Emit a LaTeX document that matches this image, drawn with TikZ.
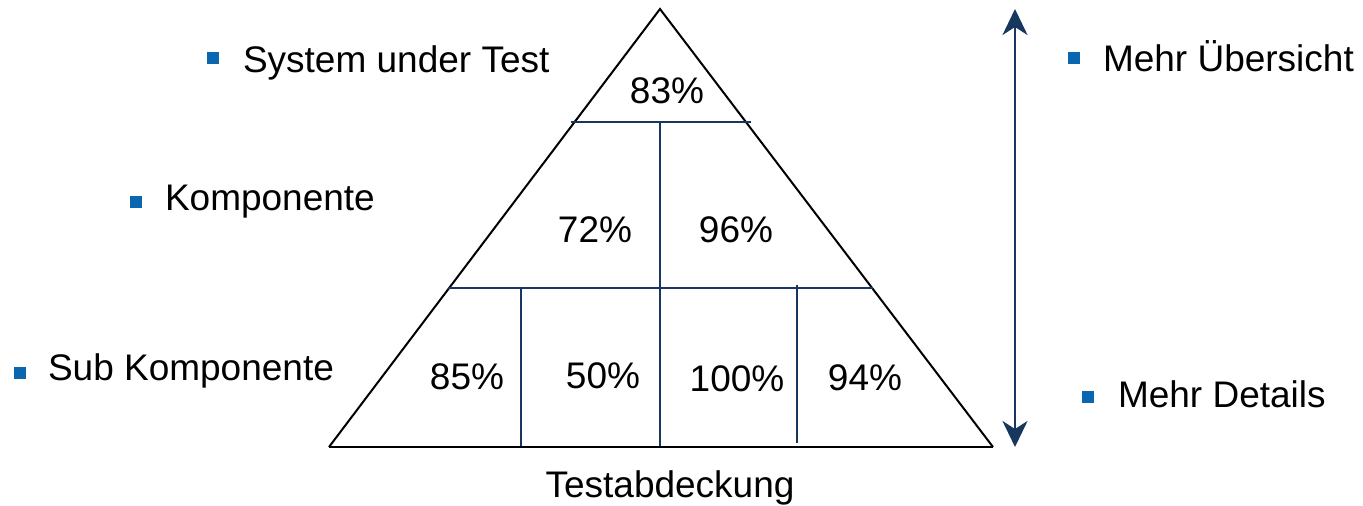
\documentclass[tikz,border=0pt]{standalone}
\usepackage{fontspec}
\setmainfont{Liberation Sans}
\usetikzlibrary{arrows.meta}
\definecolor{navy}{HTML}{17375E}
\definecolor{bulletblue}{HTML}{0A66AE}
\tikzset{
  txt/.style={font=\fontsize{37}{40}\selectfont, inner sep=0pt, outer sep=0pt},
  pct/.style={txt, anchor=base},
  lbl/.style={txt, anchor=base west},
  bul/.style={fill=bulletblue, draw=none, minimum size=12pt, inner sep=0pt, outer sep=0pt},
  edge/.style={draw=black, line width=2pt, line join=miter},
  divider/.style={draw=navy, line width=2pt},
  scale arrow/.style={draw=navy, line width=2.6pt,
    {Stealth[length=26pt, width=25pt, inset=8pt]}-{Stealth[length=26pt, width=25pt, inset=8pt]}}
}
\begin{document}
\begin{tikzpicture}[x=1pt, y=-1pt]
\useasboundingbox (0,0) rectangle (1363,506);

% pyramid outline
\coordinate (apex) at (660,9);
\coordinate (bl) at (329,447);
\coordinate (br) at (993,447);
\draw[edge] (bl) -- (apex) -- (br);
\draw[black, line width=2.6pt] (bl) -- (br);

% level dividers
\coordinate (h1l) at (571,122);
\coordinate (h1r) at (751,122);
\coordinate (h2l) at (448,288);
\coordinate (h2r) at (873,288);
\draw[divider] (h1l) -- (h1r);
\draw[divider] (h2l) -- (h2r);

% cell dividers
\coordinate (v1t) at (660,122);
\coordinate (v1b) at (660,446);
\coordinate (v2t) at (521,288);
\coordinate (v2b) at (521,446);
\coordinate (v3t) at (797,285);
\coordinate (v3b) at (797,443);
\draw[divider] (v1t) -- (v1b);
\draw[divider] (v2t) -- (v2b);
\draw[divider] (v3t) -- (v3b);

% coverage values
\node[pct] (p83)  at (667,103) {83\%};
\node[pct] (p72)  at (595,242) {72\%};
\node[pct] (p96)  at (736,242) {96\%};
\node[pct] (p85)  at (467,389) {85\%};
\node[pct] (p50)  at (603,388) {50\%};
\node[pct] (p100) at (737,391) {100\%};
\node[pct] (p94)  at (865,390) {94\%};

\node[pct] (cap) at (670,497) {Testabdeckung};

% level labels
\node[bul] (b1) at (213,58) {};
\node[lbl] (l1) at (243,72) {System under Test};
\node[bul] (b2) at (136,202) {};
\node[lbl] (l2) at (165,210) {Komponente};
\node[bul] (b3) at (20,373) {};
\node[lbl] (l3) at (48,380) {Sub Komponente};

% overview / detail scale
\coordinate (atop) at (1015,9);
\coordinate (abot) at (1015,447);
\draw[scale arrow] (atop) -- (abot);
\node[bul] (b4) at (1074,58) {};
\node[lbl] (l4) at (1103,71) {Mehr Übersicht};
\node[bul] (b5) at (1088,397) {};
\node[lbl] (l5) at (1118,407) {Mehr Details};
\end{tikzpicture}
\end{document}
